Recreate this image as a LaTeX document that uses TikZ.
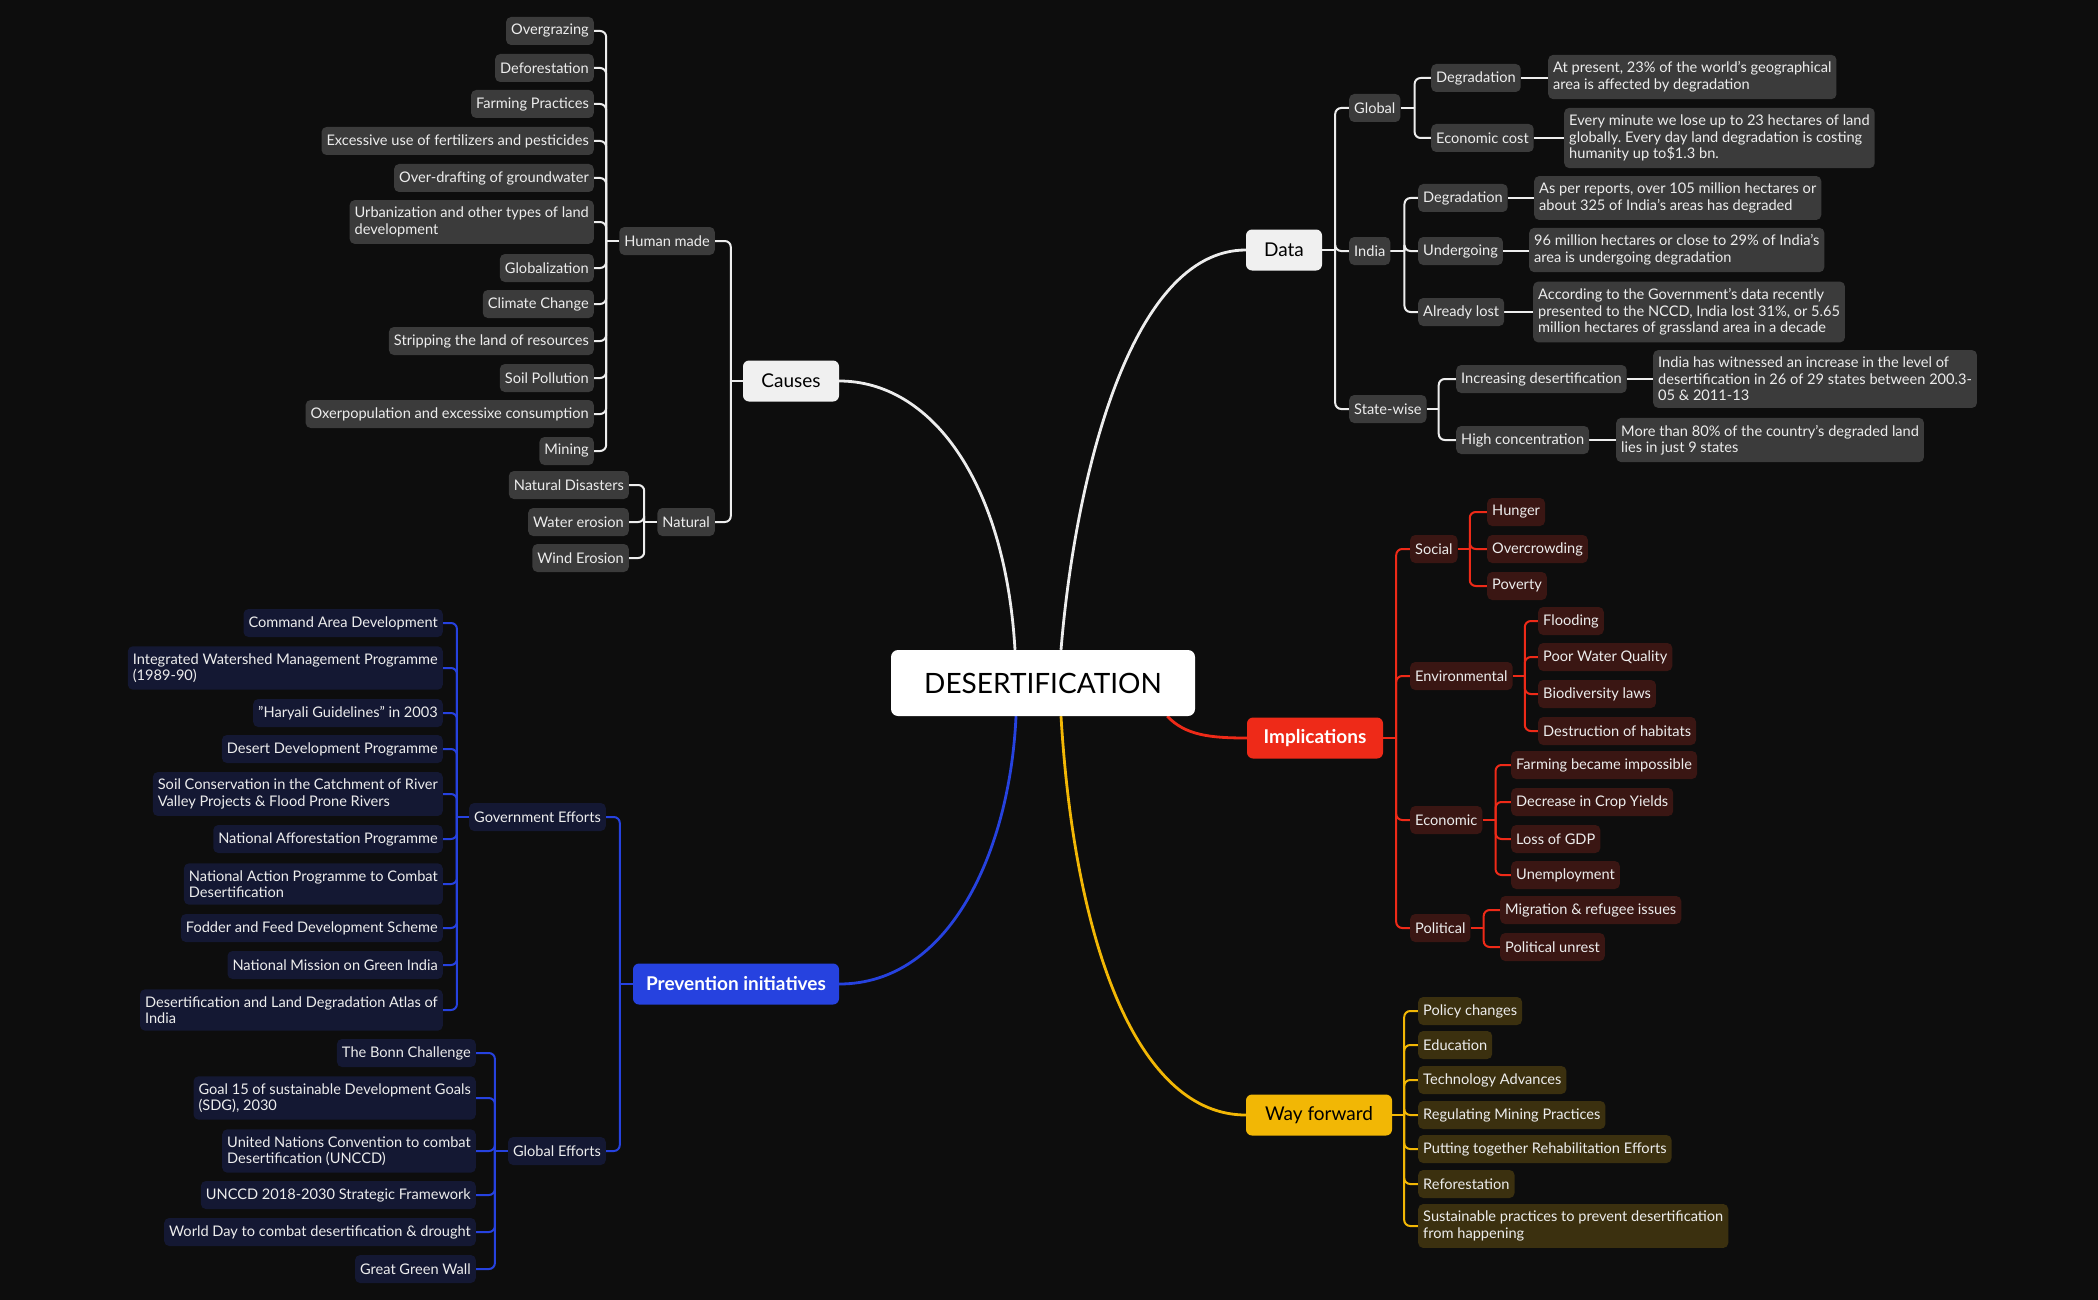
\documentclass[tikz,border=0pt]{standalone}
\usepackage{fontspec}
\setmainfont{Lato}
\usepackage{xcolor}
\usetikzlibrary{positioning, calc, backgrounds}
\definecolor{mapbg}{HTML}{0D0D0D}
\definecolor{mapgrey}{HTML}{3B3B3B}
\definecolor{mapline}{HTML}{EDEDED}
\definecolor{mapcap}{HTML}{F0F0F0}
\definecolor{mapred}{HTML}{EE2A18}
\definecolor{mapredleaf}{HTML}{3A1613}
\definecolor{mapblue}{HTML}{2642DF}
\definecolor{mapblueleaf}{HTML}{141833}
\definecolor{mapamber}{HTML}{F2B705}
\definecolor{mapamberleaf}{HTML}{3B300F}
\frenchspacing

\begin{document}
\begin{tikzpicture}[
    x=1pt, y=-1pt,
    leaf/.style={rounded corners=5pt,inner xsep=5pt,inner ysep=7pt,minimum height=28pt,align=left,text=mapline,font=\fontsize{14.6}{16.5}\selectfont},
    greyleaf/.style={leaf,fill=mapgrey},
    redleaf/.style={leaf,fill=mapredleaf},
    blueleaf/.style={leaf,fill=mapblueleaf},
    amberleaf/.style={leaf,fill=mapamberleaf},
    topic/.style={rounded corners=6pt,minimum height=41pt,font=\fontsize{19}{22}\selectfont},
    wline/.style={draw=mapline,line width=2pt,rounded corners=6pt},
    rline/.style={draw=mapred,line width=2pt,rounded corners=6pt},
    bline/.style={draw=mapblue,line width=2pt,rounded corners=6pt},
    aline/.style={draw=mapamber,line width=2pt,rounded corners=6pt},
    curve/.style={line width=2.8pt},
  ]
    \useasboundingbox (0,0) rectangle (2098,1300);

    % centre and main topics
    \node[fill=white,text=black,rounded corners=7pt,minimum width=304pt,minimum height=66pt,font=\fontsize{28}{32}\selectfont] (root) at (1043,683) {DESERTIFICATION};
    \node[topic,fill=mapcap,text=black,minimum width=96pt] (causes) at (791,381) {Causes};
    \node[topic,fill=mapcap,text=black,minimum width=76pt] (data) at (1284,250) {Data};
    \node[topic,fill=mapred,text=white,minimum width=136pt,font=\fontsize{19}{22}\selectfont\bfseries] (impl) at (1315,738) {Implications};
    \node[topic,fill=mapamber,text=black,minimum width=146pt] (way) at (1319,1115) {Way forward};
    \node[topic,fill=mapblue,text=white,minimum width=206pt,font=\fontsize{19}{22}\selectfont\bfseries] (prev) at (736,984) {Prevention initiatives};

    % causes
    \node[greyleaf,anchor=east] (human) at (715,241) {Human made};
    \node[greyleaf,anchor=east] (natural) at (715,522) {Natural};
    \foreach \i/\y/\t in {1/31/Overgrazing, 2/68/Deforestation, 3/104/Farming Practices,
        4/141/Excessive use of fertilizers and pesticides, 5/178/Over-drafting of groundwater,
        6/222/{Urbanization and other types of land\\development}, 7/268/Globalization,
        8/304/Climate Change, 9/341/Stripping the land of resources, 10/378/Soil Pollution,
        11/414/Oxerpopulation and excessixe consumption, 12/451/Mining}
      \node[greyleaf,anchor=east] (h\i) at (594,\y) {\t};
    \foreach \i/\y/\t in {1/485/Natural Disasters, 2/522/Water erosion, 3/558/Wind Erosion}
      \node[greyleaf,anchor=east] (n\i) at (629,\y) {\t};

    % data
    \node[greyleaf,anchor=west] (global) at (1349,108) {Global};
    \node[greyleaf,anchor=west] (india) at (1349,251) {India};
    \node[greyleaf,anchor=west] (state) at (1349,409) {State-wise};
    \node[greyleaf,anchor=west] (gdeg) at (1431,78) {Degradation};
    \node[greyleaf,anchor=west] (gcost) at (1431,138) {Economic cost};
    \node[greyleaf,anchor=west] (ideg) at (1418,198) {Degradation};
    \node[greyleaf,anchor=west] (iund) at (1418,251) {Undergoing};
    \node[greyleaf,anchor=west] (ilost) at (1418,312) {Already lost};
    \node[greyleaf,anchor=west] (sinc) at (1456,379) {Increasing desertification};
    \node[greyleaf,anchor=west] (shigh) at (1456,440) {High concentration};
    \node[greyleaf,anchor=west] (gdegt) at (1548,77) {At present, 23\% of the world's geographical\\area is affected by degradation};
    \node[greyleaf,anchor=west] (gcostt) at (1564,138) {Every minute we lose up to 23 hectares of land\\globally. Every day land degradation is costing\\humanity up to\$1.3 bn.};
    \node[greyleaf,anchor=west] (idegt) at (1534,198) {As per reports, over 105 million hectares or\\about 325 of India's areas has degraded};
    \node[greyleaf,anchor=west] (iundt) at (1529,250) {96 million hectares or close to 29\% of India's\\area is undergoing degradation};
    \node[greyleaf,anchor=west] (ilostt) at (1533,312) {According to the Government's data recently\\presented to the NCCD, India lost 31\%, or 5.65\\million hectares of grassland area in a decade};
    \node[greyleaf,anchor=west] (sinct) at (1653,379) {India has witnessed an increase in the level of\\desertification in 26 of 29 states between 200.3-\\05 \& 2011-13};
    \node[greyleaf,anchor=west] (shight) at (1616,440) {More than 80\% of the country's degraded land\\lies in just 9 states};

    % implications
    \node[redleaf,anchor=west] (soc) at (1410,549) {Social};
    \node[redleaf,anchor=west] (env) at (1410,676) {Environmental};
    \node[redleaf,anchor=west] (eco) at (1410,820) {Economic};
    \node[redleaf,anchor=west] (pol) at (1410,928) {Political};
    \foreach \i/\y/\t in {1/512/Hunger, 2/549/Overcrowding, 3/586/Poverty}
      \node[redleaf,anchor=west] (s\i) at (1487,\y) {\t};
    \foreach \i/\y/\t in {1/621/Flooding, 2/657/Poor Water Quality, 3/694/Biodiversity laws, 4/731/Destruction of habitats}
      \node[redleaf,anchor=west] (v\i) at (1538,\y) {\t};
    \foreach \i/\y/\t in {1/765/Farming became impossible, 2/802/Decrease in Crop Yields, 3/839/Loss of GDP, 4/875/Unemployment}
      \node[redleaf,anchor=west] (c\i) at (1511,\y) {\t};
    \foreach \i/\y/\t in {1/910/Migration \& refugee issues, 2/947/Political unrest}
      \node[redleaf,anchor=west] (p\i) at (1500,\y) {\t};

    % way forward
    \foreach \i/\y/\t in {1/1011/Policy changes, 2/1045/Education, 3/1080/Technology Advances,
        4/1115/Regulating Mining Practices, 5/1149/Putting together Rehabilitation Efforts,
        6/1184/Reforestation, 7/1226/{Sustainable practices to prevent desertification\\from happening}}
      \node[amberleaf,anchor=west] (w\i) at (1418,\y) {\t};

    % prevention initiatives
    \node[blueleaf,anchor=east] (gov) at (606,817) {Government Efforts};
    \node[blueleaf,anchor=east] (glob) at (606,1151) {Global Efforts};
    \foreach \i/\y/\t in {1/623/Command Area Development,
        2/668/{Integrated Watershed Management Programme\\(1989-90)},
        3/713/"Haryali Guidelines" in 2003, 4/749/Desert Development Programme,
        5/794/{Soil Conservation in the Catchment of River\\Valley Projects \& Flood Prone Rivers},
        6/839/National Afforestation Programme,
        7/884/{National Action Programme to Combat\\Desertification},
        8/928/Fodder and Feed Development Scheme, 9/965/National Mission on Green India,
        10/1010/{Desertification and Land Degradation Atlas of\\India}}
      \node[blueleaf,anchor=east] (g\i) at (443,\y) {\t};
    \foreach \i/\y/\t in {1/1053/The Bonn Challenge,
        2/1098/{Goal 15 of sustainable Development Goals\\(SDG), 2030},
        3/1151/{United Nations Convention to combat\\Desertification (UNCCD)},
        4/1195/UNCCD 2018-2030 Strategic Framework,
        5/1232/World Day to combat desertification \& drought, 6/1269/Great Green Wall}
      \node[blueleaf,anchor=east] (e\i) at (476,\y) {\t};

    \begin{scope}[on background layer]
      \fill[mapbg] (0,0) rectangle (2098,1300);
      % main branches
      \draw[curve,mapline] (causes.east) .. controls +(91,0) and +(-10,-170) .. ($(root.north)+(-28,0)$);
      \draw[curve,mapline] ($(root.north)+(18,0)$) .. controls +(14,-170) and +(-116,0) .. (data.west);
      \draw[curve,mapred] ($(root.south east)+(-28,0)$) .. controls +(18,19) and +(-37,0) .. (impl.west);
      \draw[curve,mapblue] ($(root.south)+(-27,0)$) .. controls +(-6,134) and +(111,0) .. (prev.east);
      \draw[curve,mapamber] ($(root.south)+(18,0)$) .. controls +(14,234) and +(-106,0) .. (way.west);

      % causes
      \draw[wline] (causes.west) -- ++(-12,0);
      \foreach \c in {human,natural} \draw[wline] (\c.east) -| ($(causes.west)+(-12,0)$);
      \draw[wline] (human.west) -- ++(-13,0);
      \foreach \i in {1,...,12} \draw[wline] (h\i.east) -| ($(human.west)+(-13,0)$);
      \draw[wline] (natural.west) -- ++(-13,0);
      \foreach \i in {1,2,3} \draw[wline] (n\i.east) -| ($(natural.west)+(-13,0)$);

      % data
      \draw[wline] (data.east) -- ++(13,0);
      \foreach \c in {global,india,state} \draw[wline] (\c.west) -| ($(data.east)+(13,0)$);
      \draw[wline] (global.east) -- ++(14,0);
      \foreach \c in {gdeg,gcost} \draw[wline] (\c.west) -| ($(global.east)+(14,0)$);
      \draw[wline] (india.east) -- ++(14,0);
      \foreach \c in {ideg,iund,ilost} \draw[wline] (\c.west) -| ($(india.east)+(14,0)$);
      \draw[wline] (state.east) -- ++(12,0);
      \foreach \c in {sinc,shigh} \draw[wline] (\c.west) -| ($(state.east)+(12,0)$);
      \foreach \a/\b in {gdeg/gdegt,gcost/gcostt,ideg/idegt,iund/iundt,ilost/ilostt,sinc/sinct,shigh/shight}
        \draw[wline] (\a.east) -- (\b.west |- \a.east);

      % implications
      \draw[rline] (impl.east) -- ++(13,0);
      \foreach \c in {soc,env,eco,pol} \draw[rline] (\c.west) -| ($(impl.east)+(13,0)$);
      \draw[rline] (soc.east) -- ++(12,0);
      \foreach \i in {1,2,3} \draw[rline] (s\i.west) -| ($(soc.east)+(12,0)$);
      \draw[rline] (env.east) -- ++(12,0);
      \foreach \i in {1,...,4} \draw[rline] (v\i.west) -| ($(env.east)+(12,0)$);
      \draw[rline] (eco.east) -- ++(13,0);
      \foreach \i in {1,...,4} \draw[rline] (c\i.west) -| ($(eco.east)+(13,0)$);
      \draw[rline] (pol.east) -- ++(13,0);
      \foreach \i in {1,2} \draw[rline] (p\i.west) -| ($(pol.east)+(13,0)$);

      % way forward
      \draw[aline] (way.east) -- ++(12,0);
      \foreach \i in {1,...,7} \draw[aline] (w\i.west) -| ($(way.east)+(12,0)$);

      % prevention initiatives
      \draw[bline] (prev.west) -- ++(-13,0);
      \foreach \c in {gov,glob} \draw[bline] (\c.east) -| ($(prev.west)+(-13,0)$);
      \draw[bline] (gov.west) -- ++(-12,0);
      \foreach \i in {1,...,10} \draw[bline] (g\i.east) -| ($(gov.west)+(-12,0)$);
      \draw[bline] (glob.west) -- ++(-13,0);
      \foreach \i in {1,...,6} \draw[bline] (e\i.east) -| ($(glob.west)+(-13,0)$);
    \end{scope}
  \end{tikzpicture}
\end{document}
